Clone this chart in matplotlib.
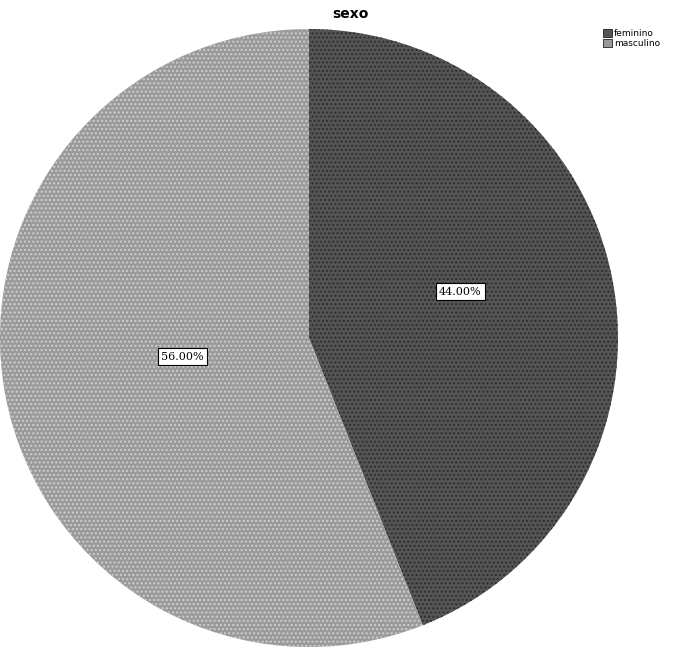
import matplotlib
matplotlib.use("Agg")
import matplotlib.pyplot as plt
import numpy as np

categories = ["feminino", "masculino"]
values = [44.0, 56.0]
labels = ["44.00%", "56.00%"]
colors = ["#555555", "#9a9a9a"]

fig = plt.figure(figsize=(7.0, 6.61), dpi=100)
W, H = 700, 661
cx, cy, r = 309, 338, 309
ax = fig.add_axes([(cx - r) / W, 1 - (cy + r) / H, 2 * r / W, 2 * r / H])
wedges, _ = ax.pie(values, colors=colors, startangle=90, counterclock=False,
                   radius=1.0, wedgeprops=dict(linewidth=0, hatch="...."))
for w, c in zip(wedges, ["#2e2e2e", "#cfcfcf"]):
    w.set_edgecolor(c)
ax.set_xlim(-1, 1)
ax.set_ylim(-1, 1)
ax.set_aspect("auto")

# label positions (fractions of radius)
label_pos = [(0.49, 0.15), (-0.41, -0.06)]
for (x, y), lab in zip(label_pos, labels):
    ax.text(x, y, lab, ha="center", va="center",
            fontsize=8, family="DejaVu Serif",
            bbox=dict(boxstyle="square,pad=0.3", facecolor="white", edgecolor="black", linewidth=0.8))

fig.text(350 / W, 1 - 14 / H, "sexo", ha="center", va="center", fontsize=10, fontweight="bold")

from matplotlib.patches import Patch
handles = [Patch(facecolor=c, edgecolor="black", linewidth=0.5) for c in colors]
fig.legend(handles, categories, loc="upper left", bbox_to_anchor=(598 / W, 1 - 24 / H),
           frameon=False, fontsize=6.5, handlelength=1.0, handleheight=1.0,
           handletextpad=0.3, labelspacing=0.1, borderpad=0)

fig.savefig("out.png", dpi=100)
